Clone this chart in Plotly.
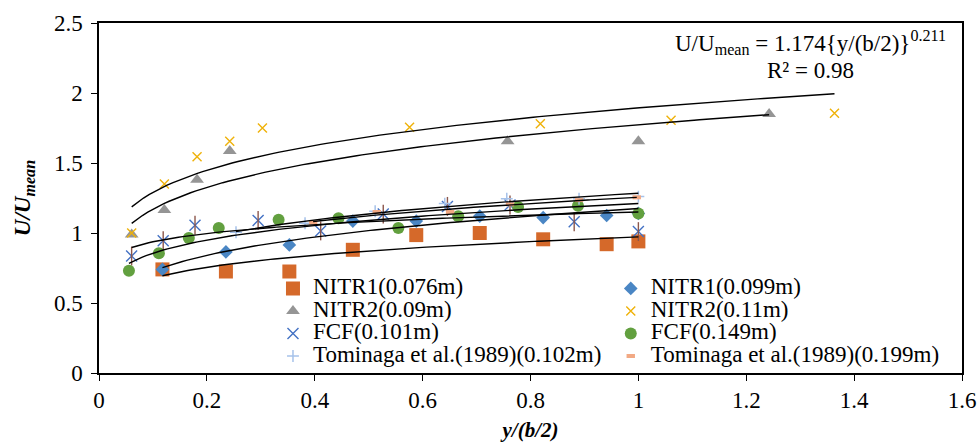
import numpy as np
import plotly.graph_objects as go

# ---- measured velocity ratios U/Umean against normalised lateral distance y/(b/2) ----
x_nitr1 = [0.1176, 0.2353, 0.3529, 0.4706, 0.5882, 0.7059, 0.8235, 0.9412, 1.0]
u_nitr1_076 = [0.74, 0.725, 0.725, 0.88, 0.985, 1.0, 0.955, 0.92, 0.94]
u_nitr1_099 = [0.74, 0.865, 0.915, 1.085, 1.085, 1.12, 1.11, 1.125, 1.14]

x_nitr2_090 = [0.0606, 0.1212, 0.1818, 0.2424, 0.7576, 1.0, 1.2424]
u_nitr2_090 = [0.99, 1.165, 1.38, 1.585, 1.655, 1.655, 1.85]

x_nitr2_110 = [0.0606, 0.1212, 0.1818, 0.2424, 0.3030, 0.5758, 0.8182, 1.0606, 1.3636]
u_nitr2_110 = [1.0, 1.35, 1.545, 1.655, 1.75, 1.755, 1.78, 1.805, 1.855]

x_fcf_101 = [0.0605, 0.119, 0.178, 0.295, 0.411, 0.527, 0.646, 0.762, 0.881, 1.0]
u_fcf_101 = [0.835, 0.945, 1.055, 1.09, 1.015, 1.135, 1.19, 1.2, 1.08, 1.01]

x_fcf_149 = [0.0555, 0.111, 0.1665, 0.222, 0.333, 0.444, 0.555, 0.666, 0.777, 0.888, 1.0]
u_fcf_149 = [0.73, 0.855, 0.965, 1.035, 1.095, 1.105, 1.035, 1.12, 1.185, 1.195, 1.14]

x_tom_102 = [0.254, 0.382, 0.512, 0.641, 0.756, 0.890, 1.0]
u_tom_102 = [1.005, 1.07, 1.155, 1.21, 1.245, 1.245, 1.26]

x_tom_199 = [0.397, 0.515, 0.651, 0.762, 0.890, 0.997]
u_tom_199 = [1.075, 1.15, 1.15, 1.205, 1.235, 1.255]

x_ticks = [0, 0.2, 0.4, 0.6, 0.8, 1, 1.2, 1.4, 1.6]
y_ticks = [0, 0.5, 1, 1.5, 2, 2.5]

FONT = "Times New Roman"


def lbl(text):
    return '<span style="font-family:Times New Roman;font-size:23px">' + text + "</span>"


series = [
    # name, x, y, symbol, size, colour, line width, legend
    ("NITR1(0.076m)", x_nitr1, u_nitr1_076, "square", 14, "#D5692A", 0, "legend"),
    ("NITR1(0.099m)", x_nitr1, u_nitr1_099, "diamond", 10.5, "#4A86C4", 0, "legend2"),
    ("NITR2(0.09m)", x_nitr2_090, u_nitr2_090, "triangle-up", 12, "#959595", 0, "legend"),
    ("NITR2(0.11m)", x_nitr2_110, u_nitr2_110, "x-thin-open", 9, "#EFB20A", 1.4, "legend2"),
    ("FCF(0.101m)", x_fcf_101, u_fcf_101, "x-thin-open", 11, "#4472C4", 1.4, "legend"),
    ("FCF(0.149m)", x_fcf_149, u_fcf_149, "circle", 12, "#62A03F", 0, "legend2"),
    ("Tominaga et al.(1989)(0.102m)", x_tom_102, u_tom_102, "cross-thin-open", 8.5, "#A6C2EA", 1.5, "legend"),
    ("Tominaga et al.(1989)(0.199m)", x_tom_199, u_tom_199, "line-ew-open", 6, "#F2A984", 4, "legend2"),
]

fig = go.Figure()

for name, xs, ys, sym, size, col, lw, leg in series:
    marker = dict(symbol=sym, size=size, color=col)
    if lw:
        marker["line"] = dict(color=col, width=lw)
    else:
        marker["line"] = dict(width=0)
    fig.add_trace(go.Scatter(x=xs, y=ys, mode="markers", name=lbl(name),
                             marker=marker, legend=leg))
    if name == "FCF(0.101m)":
        # vertical stroke completing the star marker
        fig.add_trace(go.Scatter(x=xs, y=ys, mode="markers", showlegend=False,
                                 marker=dict(symbol="line-ns-open", size=13.5,
                                             line=dict(color=col, width=1.4))))

# power-law trendlines fitted to each series (least squares in log space)
for name, xs, ys, *_ in series:
    xa, ya = np.asarray(xs), np.asarray(ys)
    b, ln_a = np.polyfit(np.log(xa), np.log(ya), 1)
    xc = np.linspace(xa.min(), xa.max(), 120)
    fig.add_trace(go.Scatter(x=xc, y=np.exp(ln_a) * xc ** b, mode="lines",
                             line=dict(color="black", width=1.4),
                             showlegend=False, hoverinfo="skip"))


def axis_style():
    return dict(
        showgrid=False, zeroline=False, showline=True, linecolor="black", linewidth=1.5,
        mirror=True, ticks="outside", tickcolor="black", ticklen=6, tickwidth=1.2,
        tickfont=dict(family=FONT, size=23, color="black"),
    )


fig.update_layout(
    template="none",
    width=978, height=442,
    margin=dict(l=99, r=16, t=23, b=69),
    paper_bgcolor="white", plot_bgcolor="white",
    font=dict(family=FONT, size=23, color="black"),
    xaxis=dict(range=[0, 1.6], tickvals=x_ticks,
               title=dict(text="<b><i>y/(b/2)</i></b>", font=dict(family=FONT, size=21),
                          standoff=16),
               **axis_style()),
    yaxis=dict(range=[0, 2.5], tickvals=y_ticks, ticklabelstandoff=4,
               title=dict(text="<b><i>U/U<sub>mean</sub></i></b>",
                          font=dict(family=FONT, size=23), standoff=17),
               **axis_style()),
    legend=dict(x=0.2016, y=0.288, xanchor="left", yanchor="top",
                bgcolor="rgba(0,0,0,0)", font=dict(family=FONT, size=15),
                itemclick=False),
    legend2=dict(x=0.593, y=0.288, xanchor="left", yanchor="top",
                 bgcolor="rgba(0,0,0,0)", font=dict(family=FONT, size=15),
                 itemclick=False),
    annotations=[
        dict(xref="paper", yref="paper", x=0.825, y=0.945, xanchor="center", yanchor="middle",
             text="U/U<sub>mean</sub> = 1.174{y/(b/2)}<sup>0.211</sup>", showarrow=False,
             font=dict(family=FONT, size=23, color="black")),
        dict(xref="paper", yref="paper", x=0.825, y=0.865, xanchor="center", yanchor="middle",
             text="R² = 0.98", showarrow=False,
             font=dict(family=FONT, size=23, color="black")),
    ],
)

fig.write_html("out.html")
